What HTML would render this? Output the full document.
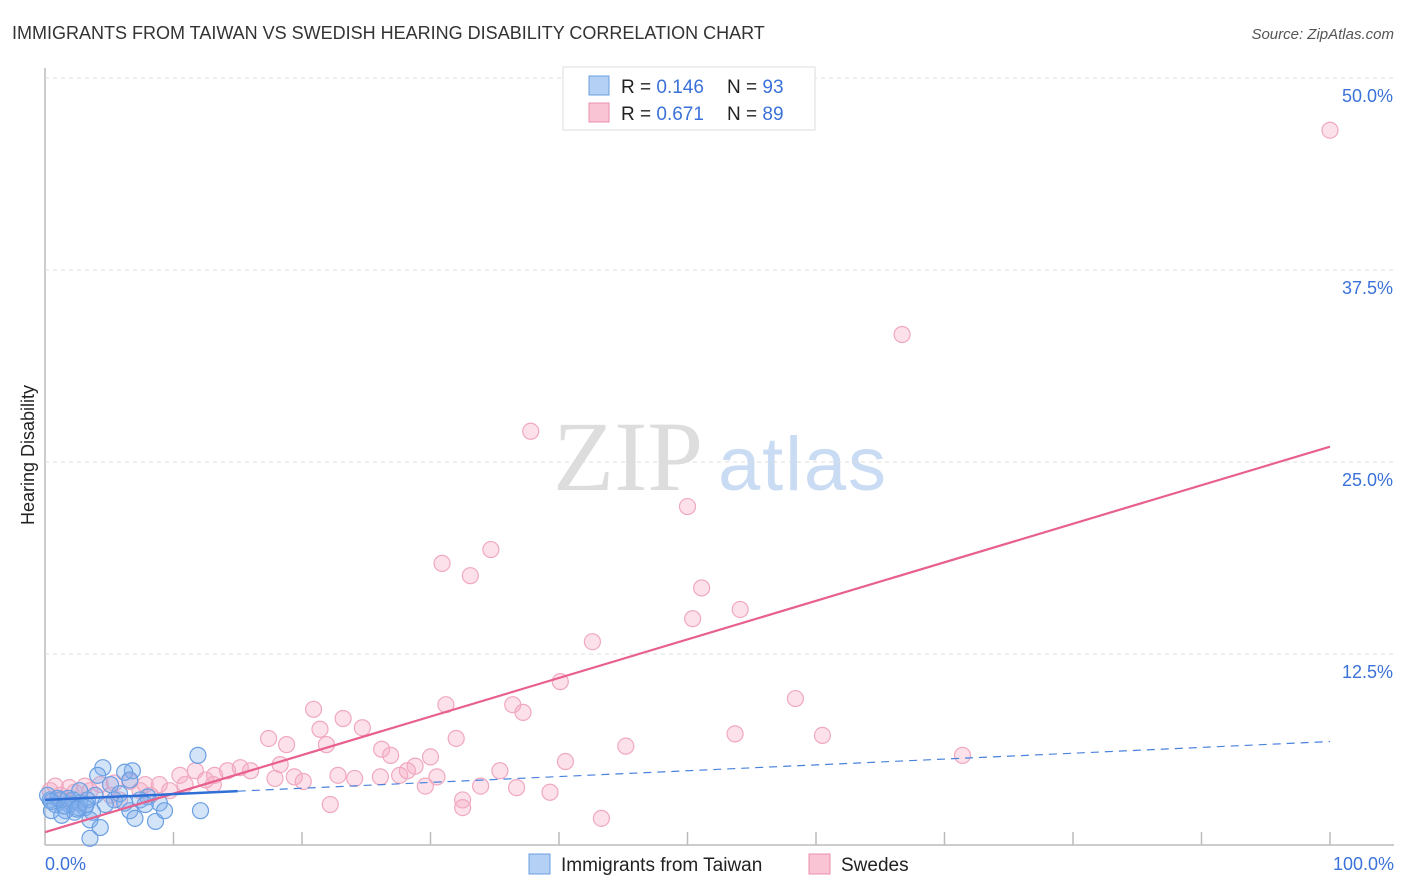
<!DOCTYPE html>
<html><head><meta charset="utf-8"><style>
body{margin:0;background:#fff;font-family:"Liberation Sans",sans-serif}
</style></head><body>
<svg id="c" width="1406" height="892" style="position:absolute;left:0;top:0">
<text x="12" y="39" font-size="18" fill="#333">IMMIGRANTS FROM TAIWAN VS SWEDISH HEARING DISABILITY CORRELATION CHART</text>
<text x="1394" y="39" font-size="15" fill="#555" font-style="italic" text-anchor="end">Source: ZipAtlas.com</text>
<text x="553" y="490" font-size="100" fill="#ddd" font-family="Liberation Serif,serif">ZIP</text>
<text x="718" y="490" font-size="76" fill="#c9dcf3" textLength="168">atlas</text>
<text transform="translate(34,455) rotate(-90)" font-size="18" fill="#222" text-anchor="middle">Hearing Disability</text>
<g id="grid"></g><g id="pts"></g><g id="lines"></g>
<g>
<rect x="563" y="67" width="252" height="63" fill="#fff" stroke="#ddd"/>
<rect x="589" y="76" width="20" height="19" fill="#b4d0f5" stroke="#6a9fe0"/>
<rect x="589" y="103" width="20" height="19" fill="#f9c5d4" stroke="#eb8fab"/>
<text x="621" y="93" font-size="19" fill="#222">R = <tspan fill="#3b72d9">0.146</tspan></text>
<text x="727" y="93" font-size="19" fill="#222">N = <tspan fill="#3b72d9">93</tspan></text>
<text x="621" y="120" font-size="19" fill="#222">R = <tspan fill="#3b72d9">0.671</tspan></text>
<text x="727" y="120" font-size="19" fill="#222">N = <tspan fill="#3b72d9">89</tspan></text>
</g>
<g>
<rect x="529" y="854" width="21" height="20" fill="#b4d0f5" stroke="#6a9fe0"/>
<text x="561" y="871" font-size="19" fill="#222">Immigrants from Taiwan</text>
<rect x="809" y="854" width="21" height="20" fill="#f9c5d4" stroke="#eb8fab"/>
<text x="841" y="871" font-size="19" fill="#222">Swedes</text>
</g>
</svg>
<script>
const yTicks=[12.5,25,37.5,50];
const yTickLabels=["12.5%","25.0%","37.5%","50.0%"];
const xTicks=[0,10,20,30,40,50,60,70,80,90,100];
const pinkX=[100,66.7,37.8,50,34.7,30.9,33.1,51.1,54.1,50.4,42.6,40.1,58.4,31.2,36.4,37.2,20.9,23.2,24.7,21.4,17.4,53.7,60.5,32,18.8,21.9,45.2,26.2,26.9,30,71.4,40.5,28.8,35.4,18.3,22.8,24.1,26.1,27.6,28.2,30.5,19.4,20.1,17.9,16,15.2,14.2,13.2,11.7,10.5,12.5,29.6,33.9,36.7,39.3,32.5,22.2,32.5,43.3,8.9,7.8,6.6,5.4,4.3,3.1,1.9,0.8,0.4,1.2,2.3,3.5,5.1,7.4,9.7,13.1,10.9,5.8,1.6,8.2];
const pinkY=[46.6,33.3,27,22.1,19.3,18.4,17.6,16.8,15.4,14.8,13.3,10.7,9.6,9.2,9.2,8.7,8.9,8.3,7.7,7.6,7,7.3,7.2,7,6.6,6.6,6.5,6.3,5.9,5.8,5.9,5.5,5.2,4.9,5.3,4.6,4.4,4.5,4.6,4.9,4.5,4.5,4.2,4.4,4.9,5.1,4.9,4.6,4.9,4.6,4.3,3.9,3.9,3.8,3.5,3,2.7,2.5,1.8,4,4,4.2,4.1,4,3.9,3.8,3.9,3.6,3.3,3.5,3.6,3.3,3.6,3.6,4,4,3,3,3.3];
const blueX=[11.9,4.5,6.8,4.1,6.2,5.1,6.6,2.7,3.9,8,8.9,12.1,5.4,6.6,7,8.6,3.5,4.3,3.5,0.4,0.8,1.2,1.6,1.9,2.3,2.7,3.1,0.2,0.5,1,1.8,2.2,2.6,3.3,4.7,5.8,7.4,9.3,3.7,1.3,6.2,7.8,0.5,1.5,2.5,3.2];
const blueY=[5.9,5.1,4.9,4.6,4.8,4,4.3,3.6,3.3,3.2,2.8,2.3,3,2.3,1.8,1.6,1.7,1.2,0.5,3,2.7,3,2.3,2.7,2.2,2.8,2.5,3.3,2.3,3.1,3.1,3,2.5,3,2.7,3.4,3,2.3,2.2,2,2.8,2.7,2.9,2.6,2.4,2.7];
const pinkTrend=[0.9,26.0];
const blueTrend=[3.0,6.8];
const blueSolidEnd=15;
const X=v=>45+v*12.85, Y=v=>846-v*15.36;
const NS="http://www.w3.org/2000/svg";
function mk(tag,at,par){const e=document.createElementNS(NS,tag);for(const k in at)e.setAttribute(k,at[k]);document.getElementById(par).appendChild(e);return e;}
let a=mk('line',{x1:45,y1:68,x2:45,y2:845,stroke:'#bbb','stroke-width':1.5},'grid');


a=mk('line',{x1:45,y1:845,x2:1394,y2:845,stroke:'#bbb','stroke-width':1.5},'grid');


yTicks.forEach((t,i)=>{
 const g=mk('line',{x1:45,y1:Y(t),x2:1394,y2:Y(t),stroke:'#ddd','stroke-dasharray':'4,4'},'grid');
 
 
 const tx=mk('text',{x:1393,y:Y(t)+24,'font-size':18,fill:'#3b72d9','text-anchor':'end'},'grid');tx.textContent=yTickLabels[i];
 
 
});
xTicks.forEach(t=>{if(t===0)return;
 const l=mk('line',{x1:X(t),y1:832,x2:X(t),y2:845,stroke:'#bbb','stroke-width':1.5},'grid');
 
 
});
let t0=mk('text',{x:45,y:870,'font-size':18,fill:'#3b72d9'},'grid');t0.textContent='0.0%';


let t1=mk('text',{x:1394,y:870,'font-size':18,fill:'#3b72d9','text-anchor':'end'},'grid');t1.textContent='100.0%';


pinkX.forEach((v,i)=>{const c=mk('circle',{cx:X(v),cy:Y(pinkY[i]),r:8,fill:'rgba(246,170,195,0.35)',stroke:'#f0a8bf','stroke-width':1.2},'pts');
 
 });
blueX.forEach((v,i)=>{const c=mk('circle',{cx:X(v),cy:Y(blueY[i]),r:8,fill:'rgba(130,175,235,0.35)',stroke:'#6a9fe3','stroke-width':1.2},'pts');
 
 });
let p=mk('line',{x1:X(0),y1:Y(pinkTrend[0]),x2:X(100),y2:Y(pinkTrend[1]),stroke:'#e8608d','stroke-width':2.2},'lines');


const bAt=v=>blueTrend[0]+(blueTrend[1]-blueTrend[0])*v/100;
let b=mk('line',{x1:X(0),y1:Y(bAt(0)),x2:X(blueSolidEnd),y2:Y(bAt(blueSolidEnd)),stroke:'#2f6fd6','stroke-width':2.5},'lines');


let bd=mk('line',{x1:X(blueSolidEnd),y1:Y(bAt(blueSolidEnd)),x2:X(100),y2:Y(bAt(100)),stroke:'#4a82dd','stroke-width':1.2,'stroke-dasharray':'8,6'},'lines');


</script>
</body></html>
